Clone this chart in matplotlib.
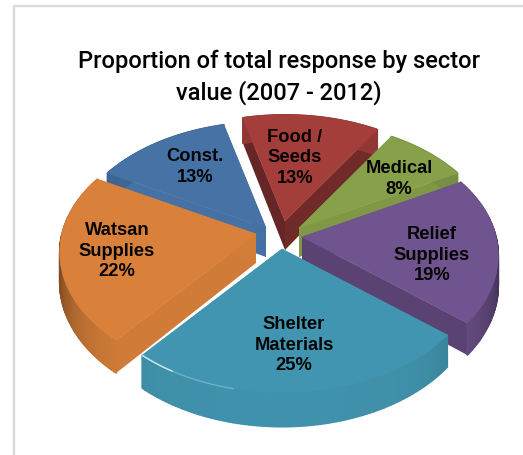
import numpy as np
import matplotlib
matplotlib.use("Agg")
import matplotlib.pyplot as plt
from matplotlib.collections import PolyCollection
from matplotlib.colors import to_rgb
from matplotlib.patches import Polygon, Rectangle

# Share of total response by sector, clockwise from the top of the pie
sectors = ["Const.", "Food /\nSeeds", "Medical", "Relief\nSupplies", "Shelter\nMaterials", "Watsan\nSupplies"]
shares = [13, 13, 8, 19, 25, 22]
colors = ["#4672A6", "#A43E3B", "#87A04A", "#70548F", "#4295B0", "#D9813A"]

# Exploded tip of each slice and its label centre, in pixels
tips = [(266, 228), (285, 221), (299, 228), (302, 237), (282, 249), (256, 234)]
label_pos = [(195, 167), (295, 158), (399, 179), (432, 255), (294, 345), (117, 251)]
# Brightness of the two cut faces of each slice
cut_tone = [(0.99, 0.98), (0.62, 0.68), (0.97, 0.95), (0.80, 0.80), (0.95, 0.95), (0.96, 0.97)]

START_ANGLE = -151.2        # clockwise from 3 o'clock, where the first slice begins
RX, RY = 194, 122           # radii of the tilted disc
PERSPECTIVE = 0.15
DEPTH = 29
DRAW_ORDER = [0, 1, 2, 3, 5, 4]

W, H = 523, 455
fig = plt.figure(figsize=(W / 100, H / 100), dpi=100)
ax = fig.add_axes([0, 0, 1, 1])
ax.set_xlim(0, W)
ax.set_ylim(H, 0)
ax.axis("off")

ax.add_patch(Rectangle((14, 6), W + 20, H + 20, fc="white", ec="#D9D9D9", lw=1.6))


def project(tip, theta, r=1.0, drop=0.0):
    """Map a point of the disc to the page, nearer points appearing larger."""
    u, v = r * np.cos(theta), r * np.sin(theta)
    w = 1 - PERSPECTIVE * v
    return tip[0] + RX * u / w, tip[1] + RY * v / w + drop / w


def shaded(color, f):
    rgb = np.array(to_rgb(color))
    return tuple(np.clip(rgb * f, 0, 1))


def rim_tone(color, a):
    # Only the near half of the rim falls into shadow at its sides
    dark = 0.40 * abs(np.cos(a)) ** 6 if np.sin(a) > 0 else 0.08
    return shaded(color, 0.97 - dark)


edges = START_ANGLE + np.cumsum([0] + [s * 3.6 for s in shares])

for i in DRAW_ORDER:
    tip, col = tips[i], colors[i]
    t = np.radians(np.linspace(edges[i], edges[i + 1], 90))
    x, y = project(tip, t)
    xb, yb = project(tip, t, drop=DEPTH)

    # Cut faces running in to the tip
    for end, f in zip((t[0], t[-1]), cut_tone[i]):
        ex, ey = project(tip, end)
        fx, fy = project(tip, end, drop=DEPTH)
        tx, ty = project(tip, end, r=0, drop=DEPTH)
        ax.add_patch(Polygon([(ex, ey), tip, (tx, ty), (fx, fy)],
                             fc=shaded(col, f), ec="none", lw=0))

    # Outer rim
    quads = [[(x[k], y[k]), (x[k + 1], y[k + 1]), (xb[k + 1], yb[k + 1]), (xb[k], yb[k])]
             for k in range(len(t) - 1)]
    tone = [rim_tone(col, a) for a in t[:-1]]
    ax.add_collection(PolyCollection(quads, facecolors=tone, edgecolors=tone, linewidths=1.2))

    # Top face
    ax.add_patch(Polygon(np.vstack([[tip], np.c_[x, y]]), fc=col, ec=col, lw=0.5,
                         joinstyle="round"))

    # Glint along the near edge of the largest slice
    if i == 4:
        n = len(t)
        ax.plot(x[int(n * 0.70):], y[int(n * 0.70):], color="#A9DCE8", lw=0.9, alpha=0.45,
                solid_capstyle="round")
        ax.plot(x[int(n * 0.88):], y[int(n * 0.88):], color="#D8F2F7", lw=1.1, alpha=0.8,
                solid_capstyle="round")

    ax.text(*label_pos[i], f"{sectors[i]}\n{shares[i]}%", ha="center", va="center",
            family="Liberation Sans", weight="bold", fontsize=13.2, linespacing=1.3,
            color="#050505")

ax.text(278.5, 77.5, "Proportion of total response by sector\nvalue (2007 - 2012)",
        ha="center", va="center", family="Roboto", weight="medium",
        fontsize=17.0, linespacing=1.4, color="black")

fig.savefig("out.png", dpi=100)
